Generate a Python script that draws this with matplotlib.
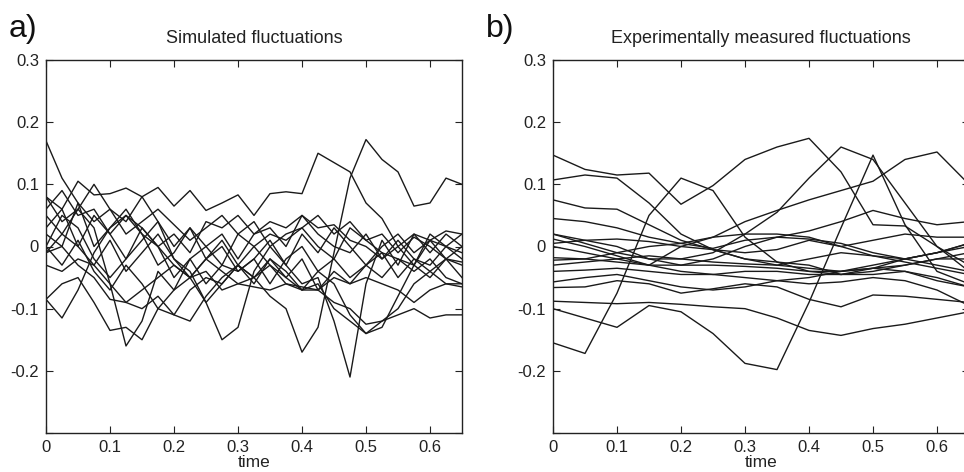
import numpy as np
import matplotlib.pyplot as plt

plt.rcParams['font.family'] = ['Liberation Sans', 'DejaVu Sans']

# time grids (s)
t_sim = np.arange(27) * 0.025
t_exp = np.arange(14) * 0.05

# a) simulated fluctuations, one list per trace
sim_traces = [
    [0.17, 0.11, 0.07, 0.0, 0.03, 0.06, 0.02, -0.03, -0.01, 0.03, -0.02, 0.01, -0.03, 0.0,
     0.02, 0.01, 0.03, 0.0, -0.02, 0.03, 0.01, 0.02, -0.01, 0.015, 0.0, -0.02, -0.03],
    [0.08, 0.06, 0.105, 0.083, 0.085, 0.094, 0.08, 0.095, 0.065, 0.09, 0.058, 0.07, 0.083, 0.05,
     0.085, 0.088, 0.085, 0.15, 0.135, 0.12, 0.07, 0.045, 0.0, -0.03, 0.01, -0.02, -0.025],
    [0.0, -0.03, 0.01, -0.04, -0.07, -0.03, -0.06, -0.1, -0.07, -0.05, -0.09, -0.06, -0.03, -0.05,
     -0.08, -0.1, -0.17, -0.13, -0.01, 0.11, 0.172, 0.14, 0.12, 0.065, 0.07, 0.11, 0.1],
    [0.03, 0.06, 0.0, 0.05, 0.02, -0.02, 0.01, 0.04, -0.02, -0.05, -0.02, 0.0, -0.04, -0.02,
     0.01, -0.03, -0.06, -0.05, -0.12, -0.21, -0.06, 0.01, -0.03, 0.02, -0.01, 0.02, 0.0],
    [-0.01, 0.02, 0.0, -0.03, 0.01, -0.04, -0.01, 0.02, -0.02, -0.04, -0.09, -0.15, -0.13, -0.04,
     0.0, -0.03, 0.02, -0.01, 0.03, 0.0, -0.03, 0.0, 0.02, -0.01, 0.01, 0.0, 0.02],
    [0.05, 0.02, 0.06, 0.03, -0.06, -0.16, -0.12, -0.04, -0.07, -0.02, 0.0, -0.03, 0.02, 0.0,
     -0.03, -0.05, -0.02, -0.07, -0.04, -0.06, -0.03, -0.05, -0.02, -0.04, -0.02, -0.05, -0.06],
    [-0.085, -0.06, -0.05, -0.09, -0.135, -0.13, -0.15, -0.1, -0.11, -0.07, -0.05, -0.06, -0.03, -0.05,
     -0.02, -0.04, -0.07, -0.06, -0.1, -0.12, -0.14, -0.12, -0.1, -0.06, -0.04, -0.06, -0.065],
    [-0.085, -0.115, -0.07, -0.01, 0.03, 0.05, 0.02, 0.0, -0.03, -0.05, -0.04, -0.07, -0.06, -0.065,
     -0.07, -0.06, -0.065, -0.07, -0.09, -0.1, -0.125, -0.12, -0.11, -0.1, -0.115, -0.11, -0.11],
    [-0.01, 0.0, -0.03, -0.05, -0.085, -0.09, -0.07, -0.05, -0.03, -0.05, -0.02, -0.04, -0.06, -0.05,
     -0.03, -0.06, -0.07, -0.07, -0.05, -0.06, -0.05, -0.06, -0.07, -0.09, -0.07, -0.06, -0.06],
    [0.06, 0.09, 0.05, 0.06, 0.02, 0.05, 0.03, 0.0, 0.02, -0.01, 0.04, 0.03, 0.05, 0.02,
     0.03, 0.0, 0.05, 0.03, 0.035, 0.01, 0.0, -0.02, 0.0, 0.02, 0.01, 0.025, 0.02],
    [0.08, 0.04, 0.06, 0.1, 0.06, 0.04, 0.08, 0.04, 0.0, 0.03, 0.0, 0.02, -0.02, 0.02,
     0.04, 0.03, 0.05, 0.02, 0.0, -0.01, 0.02, -0.02, 0.01, -0.02, -0.03, 0.0, -0.01],
    [0.0, 0.05, 0.03, -0.02, -0.05, -0.02, 0.03, 0.0, -0.05, -0.02, -0.06, -0.03, -0.04, -0.02,
     -0.06, -0.02, 0.0, -0.04, -0.02, -0.05, -0.03, -0.01, -0.05, -0.02, -0.04, -0.02, -0.05],
    [-0.03, -0.04, -0.02, -0.03, -0.06, -0.09, -0.1, -0.08, -0.11, -0.12, -0.08, -0.05, -0.03, -0.06,
     -0.02, -0.05, -0.07, -0.04, -0.06, -0.11, -0.14, -0.13, -0.08, -0.03, -0.05, -0.02, 0.0],
    [0.02, 0.0, 0.07, 0.04, 0.06, 0.02, 0.04, 0.06, 0.035, 0.01, 0.03, 0.05, 0.02, 0.04,
     0.0, 0.02, 0.03, 0.05, 0.02, 0.04, 0.01, -0.01, -0.02, -0.03, 0.02, 0.0, -0.02],
]

# b) experimentally measured fluctuations
exp_traces = [
    [0.147, 0.124, 0.115, 0.118, 0.068, 0.098, 0.14, 0.16, 0.174, 0.12, 0.035, 0.033, 0.0, -0.03],
    [-0.155, -0.172, -0.075, 0.05, 0.11, 0.09, 0.015, -0.025, -0.04, -0.045, -0.035, -0.02, -0.01, 0.0],
    [-0.1, -0.115, -0.13, -0.095, -0.105, -0.14, -0.188, -0.198, -0.09, 0.03, 0.147, 0.035, -0.04, -0.06],
    [0.107, 0.115, 0.11, 0.07, 0.02, -0.005, -0.02, -0.03, -0.035, -0.04, -0.03, -0.02, -0.01, 0.005],
    [0.075, 0.062, 0.06, 0.035, 0.01, -0.005, -0.02, -0.025, -0.03, -0.045, -0.045, -0.04, -0.05, -0.065],
    [-0.088, -0.09, -0.092, -0.09, -0.093, -0.097, -0.1, -0.115, -0.135, -0.143, -0.132, -0.125, -0.115, -0.105],
    [-0.066, -0.065, -0.055, -0.06, -0.075, -0.068, -0.06, -0.065, -0.085, -0.097, -0.078, -0.08, -0.085, -0.09],
    [0.045, 0.04, 0.03, 0.015, 0.005, -0.003, 0.01, 0.015, 0.012, 0.005, -0.01, -0.02, -0.03, -0.04],
    [0.02, 0.01, 0.0, -0.02, -0.03, -0.02, 0.0, 0.015, 0.025, 0.04, 0.058, 0.045, 0.035, 0.04],
    [0.005, 0.01, 0.012, 0.008, 0.0, -0.005, -0.01, -0.005, 0.01, 0.0, 0.01, 0.02, 0.015, 0.015],
    [-0.018, -0.02, -0.025, -0.03, -0.03, -0.03, -0.032, -0.035, -0.04, -0.04, -0.035, -0.03, -0.02, -0.01],
    [-0.022, -0.02, -0.01, 0.0, 0.005, 0.015, 0.02, 0.02, 0.015, 0.0, -0.015, -0.025, -0.035, -0.045],
    [-0.04, -0.038, -0.035, -0.04, -0.045, -0.045, -0.04, -0.04, -0.045, -0.045, -0.04, -0.03, -0.02, -0.02],
    [-0.057, -0.05, -0.045, -0.055, -0.065, -0.07, -0.065, -0.055, -0.05, -0.04, -0.035, -0.04, -0.055, -0.065],
    [0.0, -0.01, -0.02, -0.03, 0.0, 0.015, 0.04, 0.058, 0.075, 0.09, 0.105, 0.14, 0.152, 0.1],
    [0.02, 0.005, -0.01, -0.02, -0.02, -0.01, 0.02, 0.055, 0.11, 0.16, 0.14, 0.07, 0.0, -0.04],
    [0.012, 0.0, -0.015, -0.03, -0.04, -0.045, -0.05, -0.055, -0.06, -0.057, -0.05, -0.055, -0.07, -0.095],
    [-0.03, -0.025, -0.02, -0.015, -0.02, -0.025, -0.028, -0.03, -0.02, -0.01, -0.015, -0.02, -0.01, 0.005],
]

xticks = [0, 0.1, 0.2, 0.3, 0.4, 0.5, 0.6]
xticklabels = ['0', '0.1', '0.2', '0.3', '0.4', '0.5', '0.6']
yticks = [-0.3, -0.2, -0.1, 0, 0.1, 0.2, 0.3]
yticklabels = ['', '-0.2', '-0.1', '0', '0.1', '0.2', '0.3']

W, H = 964, 472
fig = plt.figure(figsize=(W / 100, H / 100), dpi=100)
ax_a = fig.add_axes([46 / W, 1 - 433 / H, 416 / W, 373 / H])
ax_b = fig.add_axes([553 / W, 1 - 433 / H, 416 / W, 373 / H])


def style(ax, title):
    ax.set_xlim(0, 0.65)
    ax.set_ylim(-0.3, 0.3)
    ax.set_xticks(xticks)
    ax.set_xticklabels(xticklabels)
    ax.set_yticks(yticks)
    ax.set_yticklabels(yticklabels)
    ax.tick_params(direction='in', length=5, width=0.8, top=True, right=True,
                   labelsize=12, colors='#222222', pad=5)
    for sp in ax.spines.values():
        sp.set_linewidth(1.0)
        sp.set_color('#222222')
    ax.set_title(title, fontsize=13, color='#222222', pad=12)
    ax.set_xlabel('time', fontsize=12.5, color='#222222', labelpad=0)


for tr in sim_traces:
    ax_a.plot(t_sim, tr, color='#1a1a1a', lw=1.0)
for tr in exp_traces:
    ax_b.plot(t_exp, tr, color='#1a1a1a', lw=1.0)

style(ax_a, 'Simulated fluctuations')
style(ax_b, 'Experimentally measured fluctuations')

fig.text(9 / W, 1 - 37 / H, 'a)', fontsize=23, color='#111111', va='baseline')
fig.text(486 / W, 1 - 37 / H, 'b)', fontsize=23, color='#111111', va='baseline')

fig.savefig('out.png', dpi=100)
